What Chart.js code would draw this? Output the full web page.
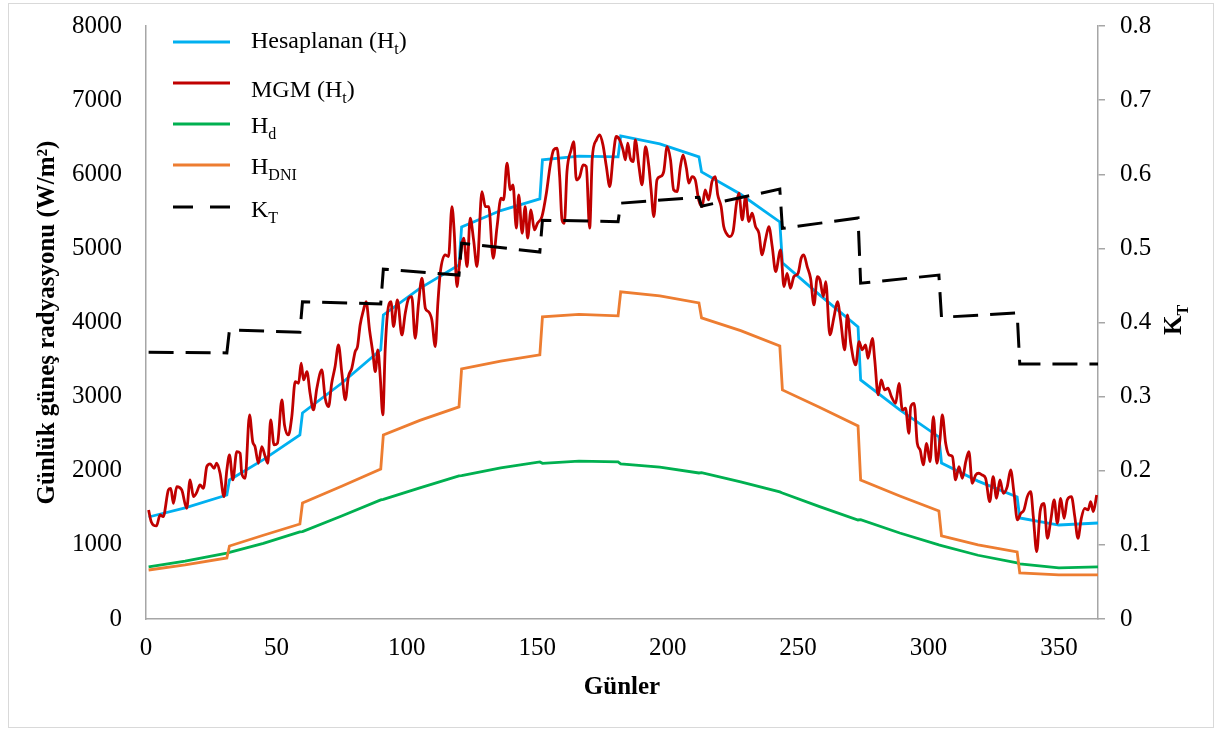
<!DOCTYPE html>
<html>
<head>
<meta charset="utf-8">
<script src="https://cdn.jsdelivr.net/npm/chart.js@4.4.1/dist/chart.umd.min.js"></script>
<style>
  body { margin: 0; background: #fff; }
</style>
</head>
<body>
<canvas id="grafico" width="1217" height="731"></canvas>
<script>
// dias de muestra para las series calculadas (inicio, mitad, fin de cada mes)
const calcDays = [1,15,31, 32,45,59, 60,75,90, 91,105,120, 121,136,151, 152,166,181,
  182,197,212, 213,228,243, 244,258,273, 274,289,304, 305,319,334, 335,350,365];

const hesaplanan = [1376,1498,1673, 1876,2150,2483, 2780,3180,3630, 4102,4460,4777,
  5290,5510,5668, 6194,6245,6235, 6518,6410,6235, 6032,5730,5357, 4804,4380,3940,
  3225,2820,2456, 2105,1860,1646, 1363,1268,1295];

const hd = [702,780,890, 900,1020,1174, 1180,1390,1606, 1615,1770,1930,
  1935,2040,2119, 2100,2130,2119, 2092,2050,1970, 1975,1850,1714, 1700,1520,1336,
  1340,1160,999, 990,860,756, 745,690,702];

const hdni = [661,730,823, 985,1130,1282, 1565,1790,2024, 2483,2680,2861,
  3374,3480,3563, 4076,4110,4089, 4413,4360,4265, 4062,3890,3684, 3090,2860,2605,
  1876,1660,1457, 1120,1000,904, 621,596,594];

// KT mensual (inicio y fin de mes)
const ktDays = [1,31, 32,59, 60,90, 91,120, 121,151, 152,181, 182,212, 213,243, 244,273, 274,304, 305,334, 335,365];
const ktValues = [0.360,0.359, 0.390,0.387, 0.428,0.425, 0.472,0.464, 0.507,0.495, 0.538,0.536,
  0.561,0.569, 0.557,0.580, 0.527,0.541, 0.453,0.464, 0.407,0.413, 0.344,0.344];

const mgmDays = [1,2,4,5.4,6.6,8.6,9.5,10.5,11.8,13.7,15.6,16.9,18.2,19.4,20.7,22,23.3,24.6,26.1,27.1,28.4,29.9,
  31,32,33.3,34.8,36.1,36.7,38,39.7,40.9,41.8,43.1,44.4,45.7,46.7,47.8,49.1,50.4,52.1,53.1,54.6,55.9,57.2,58.5,59.5,
  60.4,61.7,62.9,64.2,65.5,67.4,68.7,70,71.2,72.5,73.8,75.1,76.4,77.6,78.9,80.2,81.1,82.1,83.4,84.4,85.7,87,87.9,88.9,89.8,
  90.8,91.7,92.6,93.9,94.9,96.4,98.1,99.4,100.7,101.9,103.2,104.5,105.8,107.1,108.3,109.6,110.9,111.9,
  112.8,114.7,116,117.3,118.2,119.2,120.2,121.8,123.1,124.3,125.6,126.9,128.8,130.1,131.4,133.1,134.6,136.1,137.1,138.4,
  139.7,140.7,142,142.9,144.2,145.4,146.3,147.6,148.9,150.1,151.8,153.5,155,156.3,157.6,158.6,159.5,160.4,161.4,163,164,
  165,166.3,167.6,168.8,170.1,171.1,172.7,174,175.2,176.5,177.8,179.1,180.3,181.6,182.9,183.8,184.7,185.7,186.8,187.6,
  189,190.2,191.5,192.8,193.6,194.7,195.9,197.2,198.5,199.8,201.1,202.3,203.6,204.9,205.9,207.2,208.1,209.4,210.6,211.9,
  213.2,214.4,215.7,217,218.3,219.2,220.5,221.5,222.5,223.8,225.1,226.4,227.3,228.6,229.9,231.1,232.4,233.7,235,236.2,
  237.5,238.8,240.1,241.4,
  243.3,244.6,245.8,247.1,248.4,250,251.2,252.2,253.5,254.8,256.1,257.4,258.4,259.7,260.6,262.2,263.8,265.1,266.3,267.9,
  268.9,270.2,272.1,273.4,274.6,275.9,276.8,278.5,279.4,280.7,281.9,283.2,284.5,285.8,287.4,288.7,290,291.2,292.5,293.2,
  294.5,295.7,296.8,298,299.3,300.6,301.9,303.2,304.4,305.3,306.6,307.9,309.2,310.4,311.7,313,314.3,315.5,316.8,318.1,
  319.3,320.6,321.9,323.5,324.8,326.1,327.4,328.7,330.2,331.5,332.8,334.1,335.4,336.6,337.9,339.2,340.2,341.5,342.8,344.3,
  345.6,346.9,348.2,349.4,350.7,352,353.2,354.8,356.1,357.3,358.6,359.9,361.2,362.2,363.2,364.5];

const mgmValues = [1471,1313,1255,1403,1381,1741,1763,1561,1786,1741,1493,1876,1651,1705,1808,1763,2056,2092,2033,2101,1966,1651,
  2011,2213,1876,2258,2236,1966,1898,2753,2393,2326,2101,2326,2191,2101,2685,2348,2371,2955,2618,2483,2730,3203,3180,3450,
  3225,3337,3045,2820,3113,3360,2978,2865,3180,3405,3697,3315,2955,3270,3382,3607,3675,3967,4170,4282,3900,3585,3337,3630,3270,
  2753,3630,4125,4282,3945,4305,3832,4125,4327,4350,3787,4260,4597,4192,4147,4035,3675,4260,
  4664,4912,4889,5564,5204,4484,4800,5137,4754,5407,5114,4754,5766,5564,5564,4867,5294,5677,5654,6149,
  5789,5856,5272,5722,5204,5564,5137,5519,5249,5339,5429,5744,6126,6329,6351,5969,5384,5339,6036,6329,6441,
  5924,5969,6126,6104,5272,6216,6464,6531,6396,6104,5834,6239,6509,6464,6329,6194,6419,6216,6171,6464,
  6104,5856,6374,6104,5811,5429,5924,5969,6036,6374,6194,5789,5766,6104,6261,6081,5879,5969,5924,5654,
  5564,5789,5654,5901,5969,5722,5564,5294,5204,5159,5227,5609,5744,5384,5699,5362,5474,5294,5204,4912,
  5114,5294,5024,4687,
  4979,4484,4664,4462,4619,4664,4867,4912,4754,4597,4237,4619,4574,4350,4552,3832,4080,4282,4035,3630,
  4102,3720,3428,3742,3630,3697,3517,3787,3495,3023,3225,3090,3113,3000,2910,3180,2820,2843,2505,2865,
  2910,2370,2281,2078,2370,2123,2730,2101,2415,2753,2370,2213,2191,1876,2056,1898,2123,2258,1831,1943,
  1966,1943,1898,1583,1921,1628,1876,1696,1786,2011,1696,1336,1426,1471,1651,1718,1381,909,1448,1561,
  1089,1336,1606,1291,1628,1358,1606,1651,1381,1089,1358,1493,1471,1583,1448,1673];

const xTicks = [0, 50, 100, 150, 200, 250, 300, 350];
const yTicks = [0, 1000, 2000, 3000, 4000, 5000, 6000, 7000, 8000];
const ktTicks = [0, 0.1, 0.2, 0.3, 0.4, 0.5, 0.6, 0.7, 0.8];

// leyenda con subindices
const seriesNames = ['Hesaplanan (H', 'MGM (H', 'H', 'H', 'K'];
const seriesSubs = ['t', 't', 'd', 'DNI', 'T'];
const seriesTails = [')', ')', '', '', ''];
const seriesColors = ['#00B0F0', '#C00000', '#00B050', '#ED7D31', '#000000'];

const SERIF = '"Liberation Serif", "Times New Roman", serif';
const GRIS = '#a6a6a6';

function pares(xs, ys) {
  return xs.map((x, i) => ({ x: x, y: ys[i] }));
}

// ancho fijo de cada eje para que el area quede igual que la figura
function fijarAncho(w) {
  return s => { s.width = w; s.paddingTop = 0; s.paddingBottom = 0; };
}

const plugLeyenda = {
  id: 'leyenda',
  beforeDraw(chart) {
    const c = chart.ctx;
    c.save();
    c.fillStyle = '#fff';
    c.fillRect(0, 0, chart.width, chart.height);
    c.strokeStyle = '#d9d9d9';
    c.lineWidth = 1;
    c.strokeRect(8.5, 3.5, 1205, 724);
    c.restore();
  },
  afterDraw(chart) {
    const c = chart.ctx;
    const lineasY = [42, 83, 124, 165, 207];
    const textoY = [42, 91, 127, 168, 211];
    c.save();
    for (let i = 0; i < seriesNames.length; i++) {
      c.beginPath();
      c.strokeStyle = seriesColors[i];
      c.lineWidth = 3;
      c.setLineDash(i === 4 ? [20, 17] : []);
      c.moveTo(173, lineasY[i]);
      c.lineTo(230, lineasY[i]);
      c.stroke();
      c.setLineDash([]);

      c.fillStyle = '#000';
      c.textBaseline = 'middle';
      c.textAlign = 'left';
      let x = 251;
      c.font = '24px ' + SERIF;
      c.fillText(seriesNames[i], x, textoY[i]);
      x += c.measureText(seriesNames[i]).width;
      c.font = '16px ' + SERIF;
      c.fillText(seriesSubs[i], x, textoY[i] + 8);
      x += c.measureText(seriesSubs[i]).width;
      c.font = '24px ' + SERIF;
      c.fillText(seriesTails[i], x, textoY[i]);
    }

    // titulo eje derecho K_T
    c.translate(1178, 320);
    c.rotate(-Math.PI / 2);
    c.font = 'bold 25px ' + SERIF;
    const wK = c.measureText('K').width;
    c.font = 'bold 16px ' + SERIF;
    const wT = c.measureText('T').width;
    const x0 = -(wK + wT) / 2;
    c.font = 'bold 25px ' + SERIF;
    c.fillText('K', x0, -3);
    c.font = 'bold 16px ' + SERIF;
    c.fillText('T', x0 + wK, 6);
    c.restore();
  }
};

const ctx = document.getElementById('grafico').getContext('2d');
window.myChart = new Chart(ctx, {
  type: 'line',
  data: {
    datasets: [
      {
        label: 'K_T', data: pares(ktDays, ktValues), yAxisID: 'y2',
        borderColor: '#000', borderWidth: 3, borderDash: [25, 12],
        pointRadius: 0, tension: 0, order: 0
      },
      {
        label: 'MGM (H_t)', data: pares(mgmDays, mgmValues), yAxisID: 'y',
        borderColor: '#C00000', borderWidth: 2.8, pointRadius: 0,
        cubicInterpolationMode: 'monotone', order: 1
      },
      {
        label: 'Hesaplanan (H_t)', data: pares(calcDays, hesaplanan), yAxisID: 'y',
        borderColor: '#00B0F0', borderWidth: 2.8, pointRadius: 0,
        tension: 0, order: 2
      },
      {
        label: 'H_DNI', data: pares(calcDays, hdni), yAxisID: 'y',
        borderColor: '#ED7D31', borderWidth: 2.8, pointRadius: 0,
        tension: 0, order: 3
      },
      {
        label: 'H_d', data: pares(calcDays, hd), yAxisID: 'y',
        borderColor: '#00B050', borderWidth: 2.8, pointRadius: 0,
        tension: 0, order: 4
      }
    ]
  },
  options: {
    responsive: false,
    animation: false,
    layout: { padding: { top: 26, left: 0, right: 0, bottom: 0 } },
    plugins: {
      legend: { display: false },
      tooltip: { enabled: false }
    },
    scales: {
      x: {
        type: 'linear',
        min: 0, max: 365,
        afterFit: s => { s.height = 112; s.paddingLeft = 0; s.paddingRight = 0; },
        afterBuildTicks: s => { s.ticks = xTicks.map(v => ({ value: v })); },
        grid: { display: false, drawTicks: false },
        border: { display: true, color: GRIS, width: 1.5 },
        ticks: { padding: 14, color: '#000', font: { family: SERIF, size: 25 }, maxRotation: 0 },
        title: {
          display: true, text: 'Günler', color: '#000',
          font: { family: SERIF, size: 25, weight: 'bold' },
          padding: { top: 0, bottom: 28 }
        }
      },
      y: {
        position: 'left',
        min: 0, max: 8000,
        afterFit: fijarAncho(146),
        afterBuildTicks: s => { s.ticks = yTicks.map(v => ({ value: v })); },
        grid: { display: false, drawTicks: false },
        border: { display: true, color: GRIS, width: 1.5 },
        ticks: { padding: 24, color: '#000', font: { family: SERIF, size: 25 }, callback: v => String(v) },
        title: {
          display: true, text: 'Günlük güneş radyasyonu (W/m²)', color: '#000',
          font: { family: SERIF, size: 25, weight: 'bold' },
          padding: { top: 33, bottom: 0 }
        }
      },
      y2: {
        position: 'right',
        min: 0, max: 0.8,
        afterFit: fijarAncho(119),
        afterBuildTicks: s => { s.ticks = ktTicks.map(v => ({ value: v })); },
        grid: { display: true, drawOnChartArea: false, drawTicks: true, tickLength: 7, color: GRIS, lineWidth: 1.5 },
        border: { display: true, color: GRIS, width: 1.5 },
        ticks: { padding: 15, color: '#000', font: { family: SERIF, size: 25 }, callback: v => String(v) }
      }
    }
  },
  plugins: [plugLeyenda]
});
</script>
</body>
</html>
